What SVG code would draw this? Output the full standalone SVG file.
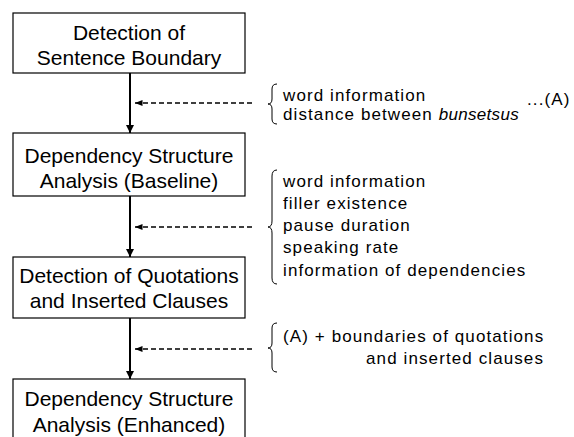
<svg xmlns="http://www.w3.org/2000/svg" width="574" height="437" viewBox="0 0 574 437">
<style>
.box{fill:#fff;stroke:#000;stroke-width:1.2}
.bt{font-family:"Liberation Sans",Arial,sans-serif;font-size:21px;text-anchor:middle;fill:#000}
.st{font-family:"Liberation Sans",Arial,sans-serif;font-size:17px;letter-spacing:1.1px;fill:#000}
.flow{stroke:#000;stroke-width:2;fill:none}
.dash{stroke:#000;stroke-width:1.5;stroke-dasharray:5,3;fill:none}
.brace{stroke:#000;stroke-width:1;fill:none}
</style>
<defs>
<marker id="ah" viewBox="0 0 10 10" refX="10" refY="5" markerWidth="4" markerHeight="4" orient="auto" markerUnits="strokeWidth">
<path d="M0,0 L10,5 L0,10 z" fill="#000"/>
</marker>
<marker id="ahd" viewBox="0 0 10 10" refX="10" refY="5" markerWidth="5" markerHeight="5" orient="auto" markerUnits="strokeWidth">
<path d="M0,1 L10,5 L0,9 z" fill="#000"/>
</marker>
</defs>
<g id="connectors">
<line class="flow" x1="130" y1="73" x2="130" y2="133" marker-end="url(#ah)"/>
<line class="flow" x1="130" y1="196" x2="130" y2="257" marker-end="url(#ah)"/>
<line class="flow" x1="130" y1="318" x2="130" y2="379" marker-end="url(#ah)"/>
<line class="dash" x1="252" y1="103" x2="135" y2="103" marker-end="url(#ahd)"/>
<line class="dash" x1="252" y1="227" x2="135" y2="227" marker-end="url(#ahd)"/>
<line class="dash" x1="252" y1="349" x2="135" y2="349" marker-end="url(#ahd)"/>
</g>
<g id="node1">
<rect class="box" x="13" y="13" width="232" height="60"/>
<text class="bt" x="129" y="40">Detection of</text>
<text class="bt" x="129" y="65">Sentence Boundary</text>
</g>
<g id="node2">
<rect class="box" x="13" y="133" width="232" height="63"/>
<text class="bt" x="129" y="163">Dependency Structure</text>
<text class="bt" x="129" y="188">Analysis (Baseline)</text>
</g>
<g id="node3">
<rect class="box" x="13" y="257" width="232" height="61"/>
<text class="bt" x="129" y="283">Detection of Quotations</text>
<text class="bt" x="129" y="308">and Inserted Clauses</text>
</g>
<g id="node4">
<rect class="box" x="13" y="379" width="232" height="70"/>
<text class="bt" x="129" y="406">Dependency Structure</text>
<text class="bt" x="129" y="432">Analysis (Enhanced)</text>
</g>
<g id="features1">
<path class="brace" d="M277,84 Q272,84 272,89 L272,99 Q272,104 268,104 Q272,104 272,109 L272,119 Q272,124 277,124"/>
<text class="st" x="283" y="101">word information</text>
<text class="st" x="283" y="120">distance between <tspan font-style="italic" letter-spacing="0.3">bunsetsus</tspan></text>
<text class="st" x="527" y="105">...(A)</text>
</g>
<g id="features2">
<path class="brace" d="M277,170 Q272,170 272,176 L272,221 Q272,227 268,227 Q272,227 272,233 L272,278 Q272,284 277,284"/>
<text class="st" x="283" y="187">word information</text>
<text class="st" x="283" y="209">filler existence</text>
<text class="st" x="283" y="231">pause duration</text>
<text class="st" x="283" y="253">speaking rate</text>
<text class="st" x="283" y="276">information of dependencies</text>
</g>
<g id="features3">
<path class="brace" d="M277,323 Q272,323 272,328 L272,343 Q272,348 268,348 Q272,348 272,353 L272,367 Q272,372 277,372"/>
<text class="st" x="283" y="342">(A) + boundaries of quotations</text>
<text class="st" x="544" y="364" text-anchor="end">and inserted clauses</text>
</g>
</svg>
